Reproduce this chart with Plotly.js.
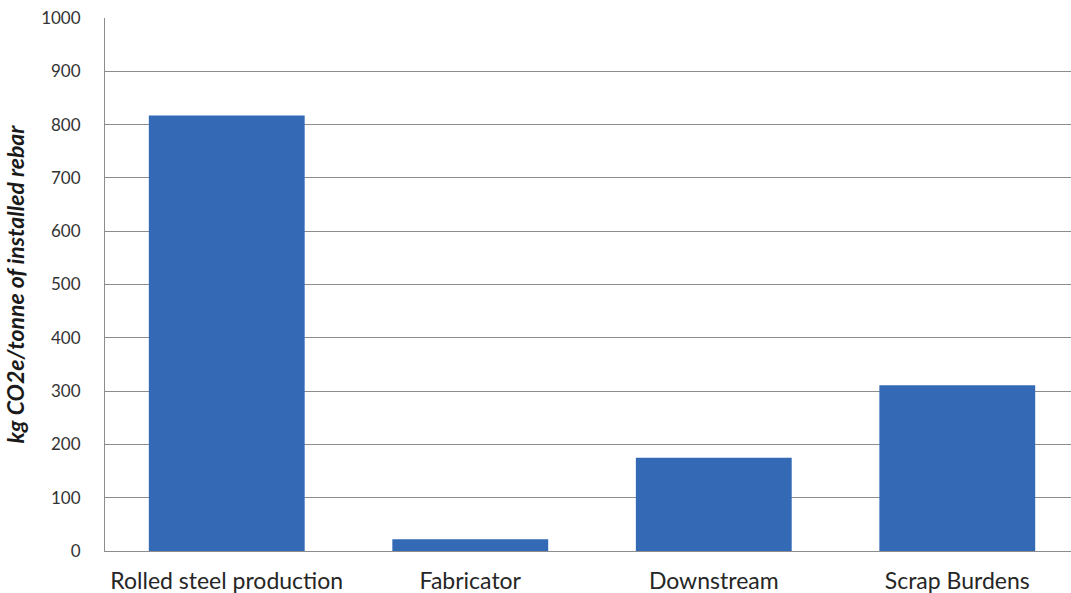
<!DOCTYPE html>
<html>
<head>
<meta charset="utf-8">
<script src="https://cdn.plot.ly/plotly-3.0.1.min.js"></script>
<style>html,body{margin:0;padding:0;background:#fff;}#chart{width:1071px;height:593px;}</style>
</head>
<body>
<div id="chart"></div>
<script>
const categories = ["Rolled steel production", "Fabricator", "Downstream", "Scrap Burdens"];
const values = [817, 22, 175, 311];
const yTickValues = [0, 100, 200, 300, 400, 500, 600, 700, 800, 900, 1000];
const yTitle = "kg CO2e/tonne of installed rebar";

const trace = {
  type: "bar",
  x: categories,
  y: values,
  marker: {color: "#3369b5", line: {width: 0}},
  hoverinfo: "x+y"
};

const layout = {
  width: 1071,
  height: 593,
  margin: {l: 105, r: 0, t: 18, b: 42},
  paper_bgcolor: "#ffffff",
  plot_bgcolor: "#ffffff",
  bargap: 0.36,
  showlegend: false,
  font: {family: "Lato, 'Open Sans', sans-serif", color: "#333333"},
  xaxis: {
    type: "category",
    range: [-0.5, 3.467],
    showgrid: false,
    showline: true,
    linecolor: "#8c8c8c",
    linewidth: 1,
    ticks: "",
    tickfont: {size: 23, color: "#262626"},
    ticklabelstandoff: 9,
    zeroline: false
  },
  yaxis: {
    range: [0, 1000],
    tickvals: yTickValues,
    ticktext: yTickValues.map(String),
    showgrid: true,
    gridcolor: "#8c8c8c",
    gridwidth: 1,
    showline: true,
    linecolor: "#8c8c8c",
    linewidth: 1,
    ticks: "",
    tickfont: {size: 17, color: "#333333"},
    ticklabelstandoff: 20,
    zeroline: false,
    title: {text: "<b><i>" + yTitle + "</i></b>", font: {size: 23, color: "#1a1a1a"}, standoff: 10}
  }
};

Plotly.newPlot("chart", [trace], layout, {displayModeBar: false, staticPlot: true});
</script>
</body>
</html>
